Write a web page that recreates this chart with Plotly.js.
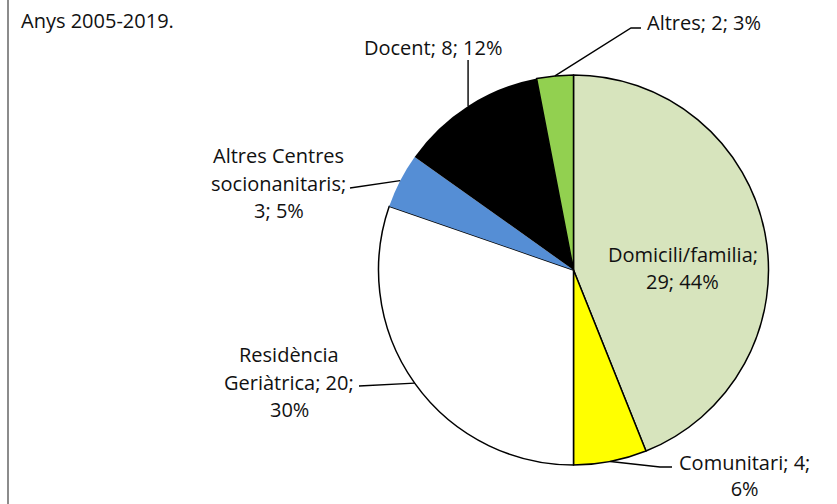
<!DOCTYPE html>
<html><head><meta charset="utf-8">
<script src="https://cdn.plot.ly/plotly-3.0.1.min.js"></script>
<style>html,body{margin:0;padding:0;background:#fff;}#chart{width:837px;height:504px;}</style>
</head><body><div id="chart"></div>
<script>
const categories = ["Domicili/familia", "Comunitari", "Residència Geriàtrica", "Altres Centres socionanitaris", "Docent", "Altres"];
const values = [29, 4, 20, 3, 8, 2];
const sliceColors = ["#D7E4BD", "#FFFF00", "#FFFFFF", "#558ED5", "#000000", "#92D050"];
const subtitle = "Anys 2005-2019.";

const W = 837, H = 504;
const CX = 573.5, CY = 270, R = 195;
const FONT = {family: "Open Sans, Noto Sans, sans-serif", size: 20, color: "#111"};
const LINE_H = 27.5;

const total = values.reduce((a, b) => a + b, 0);
const pct = values.map(v => Math.round(v / total * 100));
const px = x => x / W, py = y => 1 - y / H;

// mid-angle (clockwise from 12 o'clock) of each slice
let acc = 0;
const mids = values.map(v => { const m = (acc + v / 2) / total * 360; acc += v; return m; });
const edge = i => { const a = mids[i] * Math.PI / 180; return [CX + R * Math.sin(a), CY - R * Math.cos(a)]; };

const labelText = i => `${categories[i]}; ${values[i]}; ${pct[i]}%`;
const labelSpecs = [
  {lines: ["Domicili/familia;", `${values[0]}; ${pct[0]}%`], x: 682.5, y: 268, xanchor: "center"},
  {lines: ["Residència", "Geriàtrica; " + values[2] + ";", pct[2] + "%"], x: 289, y: 382, xanchor: "center"},
  {lines: ["Altres Centres", "socionanitaris;", values[3] + "; " + pct[3] + "%"], x: 278.5, y: 183, xanchor: "center"},
  {lines: [labelText(4)], x: 433, y: 47, xanchor: "center"},
  {lines: [labelText(5)], x: 645, y: 23, xanchor: "left"}
];
const leaderPoints = {
  1: [[660, 467], [672, 467]],
  2: [[359, 386]],
  3: [[350, 188]],
  4: [["edge", 60]],
  5: [[631, 28], [641, 28]]
};

const annotations = [];
labelSpecs.forEach(s => {
  const n = s.lines.length;
  s.lines.forEach((t, k) => {
    const yy = s.y + (k - (n - 1) / 2) * LINE_H;
    annotations.push({text: t, xref: "paper", yref: "paper", x: px(s.x), y: py(yy),
      xanchor: s.xanchor, yanchor: "middle", showarrow: false, font: FONT});
  });
});
// Comunitari label sits on the bottom edge: one block anchored to the bottom
annotations.push({text: "Comunitari; " + values[1] + ";<br>" + pct[1] + "%", align: "center",
  xref: "paper", yref: "paper", x: px(744.5), y: 0, xanchor: "center", yanchor: "bottom",
  showarrow: false, font: FONT});
annotations.push({text: subtitle, xref: "paper", yref: "paper", x: px(19), y: py(21),
  xanchor: "left", yanchor: "middle", showarrow: false, font: FONT});

const shapes = [];
Object.keys(leaderPoints).forEach(key => {
  const i = +key;
  const e = edge(i);
  const pts = [e].concat(leaderPoints[key].map(p => [p[0] === "edge" ? e[0] : p[0], p[1]]));
  const path = pts.map((p, k) => (k ? "L" : "M") + px(p[0]).toFixed(5) + "," + py(p[1]).toFixed(5)).join(" ");
  shapes.push({type: "path", xref: "paper", yref: "paper", path: path, line: {color: "#000", width: 1.4}});
});
shapes.push({type: "line", xref: "paper", yref: "paper", x0: px(8), x1: px(8), y0: 0, y1: 1,
  line: {color: "#8c8c8c", width: 2}});

const trace = {
  type: "pie",
  labels: categories,
  values: values,
  sort: false,
  direction: "clockwise",
  rotation: 0,
  marker: {colors: sliceColors, line: {color: "#000", width: [1.5, 1.5, 1.5, 0, 0, 1.5]}},
  textinfo: "none",
  hoverinfo: "none",
  showlegend: false,
  domain: {x: [px(CX - R), px(CX + R)], y: [py(CY + R), py(CY - R)]}
};

Plotly.newPlot("chart", [trace], {
  width: W, height: H,
  margin: {l: 0, r: 0, t: 0, b: 0},
  paper_bgcolor: "#fff",
  showlegend: false,
  annotations: annotations,
  shapes: shapes
}, {staticPlot: true});
</script></body></html>
